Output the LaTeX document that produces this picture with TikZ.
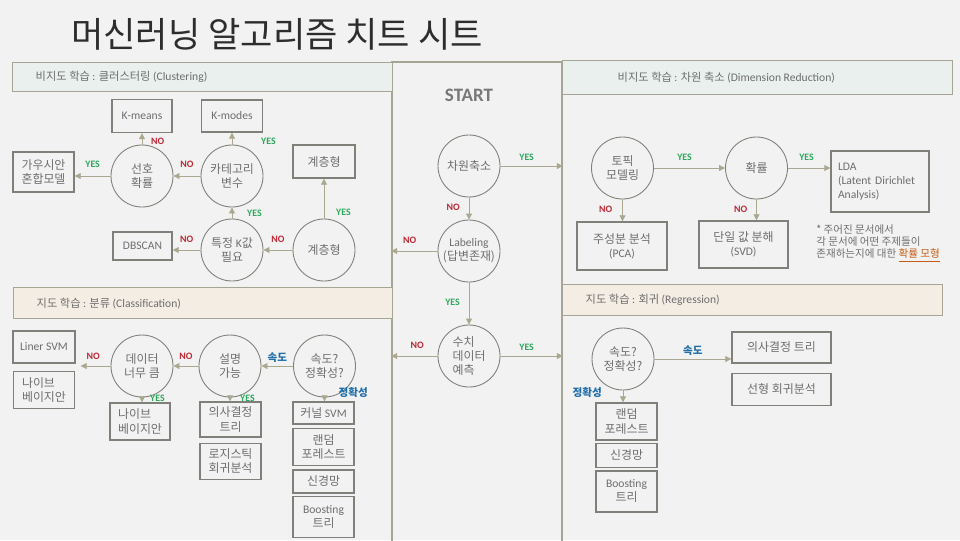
\documentclass[tikz,border=0pt]{standalone}
\usepackage{fontspec}
\setmainfont{Noto Sans CJK KR}
\newfontfamily\lat{Carlito}
\usepackage{xcolor}
\usetikzlibrary{arrows.meta,positioning}

\definecolor{bgc}{RGB}{242,242,242}
\definecolor{titlec}{RGB}{45,45,45}
\definecolor{framec}{RGB}{166,164,146}
\definecolor{edgec}{RGB}{128,128,122}
\definecolor{arrc}{RGB}{170,168,145}
\definecolor{txtc}{RGB}{110,110,110}
\definecolor{startc}{RGB}{120,120,120}
\definecolor{yesc}{RGB}{46,168,92}
\definecolor{noc}{RGB}{192,40,52}
\definecolor{spdc}{RGB}{30,110,170}
\definecolor{hdrtop}{RGB}{233,240,238}
\definecolor{hdrbot}{RGB}{244,237,227}
\definecolor{notec}{RGB}{197,90,17}

\newcommand\ndfont{\fontsize{6.8}{8}\selectfont}
\newcommand\lblfont{\lat\bfseries\fontsize{5.6}{6}\selectfont}
\newcommand\ltxt[1]{{\lat\fontsize{6.6}{8}\selectfont #1}}
\newcommand\hdrtext[2]{\makebox[#1][l]{#2}}

\begin{document}
\begin{tikzpicture}[
  x=0.2mm, y=-0.2mm,
  dec/.style={circle, draw=edgec, line width=0.5pt, minimum size=12.4mm, inner sep=0pt, align=center, text=txtc, font=\ndfont},
  algo/.style={draw=edgec, line width=0.8pt, inner sep=0pt, align=center, text=txtc, font=\ndfont, minimum width=12.2mm},
  hdr/.style={draw=framec, line width=0.8pt, inner ysep=0pt, anchor=north west, text=txtc, font=\fontsize{6.4}{8}\selectfont},
  yeslbl/.style={font=\lblfont, text=yesc, inner sep=1pt},
  nolbl/.style={font=\lblfont, text=noc, inner sep=1pt},
  spdlbl/.style={font=\bfseries\fontsize{6}{7}\selectfont, text=spdc, inner sep=1pt},
  arr/.style={-{Triangle[length=1.2mm,width=1.2mm]}, draw=arrc, line width=0.5pt},
]

\useasboundingbox[fill=bgc] (0,0) rectangle (960,540);

\node[font=\fontsize{20}{22}\selectfont, text=titlec] (title) at (277,34) {머신러닝 알고리즘 치트 시트};

% start column
\node[draw=framec, line width=0.9pt, minimum width=34mm, minimum height=96.4mm, anchor=north, inner sep=0pt] (startcol) at (477,61) {};
\node[font=\lat\bfseries\fontsize{10.8}{13}\selectfont, text=startc] (start) at (469,95) {START};

\node[dec] (dimred) at (469,166) {차원축소};
\node[dec] (labeling) at (469,251) {\ltxt{Labeling}\\(답변존재)};
\node[dec, align=left] (numeric) at (469,356) {수치\\데이터\\예측};

\draw[arr] (dimred) -- (dimred -| startcol.east) node[pos=0.42, above=0.6mm, yeslbl] {YES};
\draw[arr] (dimred) -- (labeling) node[pos=0.45, left=1.4mm, nolbl] {NO};
\draw[arr] (labeling) -- (labeling -| startcol.west) node[pos=0.6, above=1.1mm, nolbl] {NO};
\draw[arr] (labeling) -- (numeric) node[pos=0.48, left=1.4mm, yeslbl] {YES};
\draw[arr] (numeric) -- (numeric -| startcol.west) node[pos=0.44, above=1.1mm, nolbl] {NO};
\draw[arr] (numeric) -- (numeric -| startcol.east) node[pos=0.42, above=0.7mm, yeslbl] {YES};

% headers
\node[hdr, fill=hdrtop, minimum height=5.8mm, inner xsep=4.6mm] (hdrclu) at (12,62) {\hdrtext{66.8mm}{비지도 학습 {\lat:} 클러스터링 \ltxt{(Clustering)}}};
\node[hdr, fill=hdrtop, minimum height=6.8mm, inner xsep=11mm] (hdrdim) at (562,60) {\hdrtext{56mm}{비지도 학습 {\lat:} 차원 축소 \ltxt{(Dimension Reduction)}}};
\node[hdr, fill=hdrbot, minimum height=6.2mm, inner xsep=4.6mm] (hdrcls) at (13,287) {\hdrtext{66.6mm}{지도 학습 {\lat:} 분류 \ltxt{(Classification)}}};
\node[hdr, fill=hdrbot, minimum height=6.2mm, inner xsep=4.6mm] (hdrreg) at (562,284) {\hdrtext{66.8mm}{지도 학습 {\lat:} 회귀 \ltxt{(Regression)}}};

% clustering
\node[dec] (sunho) at (142,176) {선호\\확률};
\node[dec] (kate) at (232,176) {카테고리\\변수};
\node[dec] (kval) at (232,250) {특정 \ltxt{K}값\\필요};
\node[dec] (hier) at (324,250) {계층형};
\node[algo, minimum width=12mm, minimum height=6.6mm] (kmeans) at (142,116) {\ltxt{K-means}};
\node[algo, minimum height=6.4mm] (kmodes) at (232,116) {\ltxt{K-modes}};
\node[algo, minimum height=8mm] (gmm) at (43.5,172) {가우시안\\혼합모델};
\node[algo, minimum width=12.4mm, minimum height=6.6mm] (hiertop) at (324,161.5) {계층형};
\node[algo, minimum width=11.8mm, minimum height=5.6mm] (dbscan) at (142.5,246) {\ltxt{DBSCAN}};

\draw[arr] (sunho) -- (kmeans) node[pos=0.3, right=1.4mm, nolbl] {NO};
\draw[arr] (sunho) -- (sunho -| gmm.east) node[midway, above=1.2mm, yeslbl] {YES};
\draw[arr] (kate) -- (sunho) node[midway, above=1.2mm, nolbl] {NO};
\draw[arr] (kate) -- (kmodes) node[pos=0.3, right=5.4mm, yeslbl] {YES};
\draw[arr] (kval) -- (kate) node[pos=0.45, right=2.6mm, yeslbl] {YES};
\draw[arr] (kval) -- (kval -| dbscan.east) node[midway, above=1.1mm, nolbl] {NO};
\draw[arr] (hier) -- (kval) node[midway, above=1.1mm, nolbl] {NO};
\draw[arr] (hier) -- (hiertop) node[pos=0.15, right=2mm, yeslbl] {YES};

% dimension reduction
\node[dec] (topic) at (622.5,168) {토픽\\모델링};
\node[dec] (prob) at (756.5,168) {확률};
\node[algo, text width=16.8mm, align=left, minimum height=12.2mm, inner xsep=1.4mm] (lda) at (880,181.5) {\ltxt{LDA}\\\ltxt{(Latent Dirichlet}\\\ltxt{Analysis)}};
\node[algo, minimum width=18mm, minimum height=9.6mm] (pca) at (622,246) {주성분 분석\\\ltxt{(PCA)}};
\node[algo, minimum width=17.8mm, minimum height=9.4mm] (svd) at (743.5,244.5) {단일 값 분해\\\ltxt{(SVD)}};
\node[anchor=north west, align=left, text=txtc, font=\fontsize{6}{7}\selectfont, inner sep=0pt] (note) at (816,224) {* 주어진 문서에서\\각 문서에 어떤 주제들이\\존재하는지에 대한 \textcolor{notec}{\underline{확률 모형}}};

\draw[arr] (topic) -- (prob) node[pos=0.43, above=1.1mm, yeslbl] {YES};
\draw[arr] (prob) -- (prob -| lda.west) node[pos=0.44, above=1.1mm, yeslbl] {YES};
\draw[arr] (topic) -- (topic |- pca.north) node[pos=0.45, left=1.6mm, nolbl] {NO};
\draw[arr] (prob) -- (prob |- svd.north) node[pos=0.45, left=1.4mm, nolbl] {NO};

% classification
\node[dec] (data) at (142,366) {데이터\\너무 큼};
\node[dec] (expl) at (230,366) {설명\\가능};
\node[dec] (speedc) at (324.5,366) {속도?\\정확성?};
\node[algo, minimum width=12.4mm, minimum height=6.4mm] (linsvm) at (44,347) {\ltxt{Liner SVM}};
\node[algo, align=left, minimum height=7.4mm, below=1.4mm of linsvm] (nbleft) {나이브\\베이지안};
\node[algo, align=left, minimum width=12mm, minimum height=7.4mm] (nbmid) at (140,421.5) {나이브\\베이지안};
\node[algo, minimum height=7mm] (dtree) at (230.5,419.5) {의사결정\\트리};
\node[algo, minimum height=7.2mm, below=1mm of dtree] (logit) {로지스틱\\회귀분석};
\node[algo, minimum height=4.4mm] (ksvm) at (323.5,413) {커널 \ltxt{SVM}};
\node[algo, minimum height=7.4mm, below=0.6mm of ksvm] (rf) {랜덤\\포레스트};
\node[algo, minimum height=4.6mm, below=0.6mm of rf] (nn) {신경망};
\node[algo, minimum height=8.2mm, below=0.4mm of nn] (boost) {\ltxt{Boosting}\\트리};

\draw[arr, shorten >=1mm] (data) -- (data -| linsvm.east) node[midway, above=0.9mm, nolbl] {NO};
\draw[arr] (expl) -- (data) node[midway, above=0.9mm, nolbl] {NO};
\draw[arr] (speedc) -- (expl) node[midway, above=0.3mm, spdlbl] {속도};
\draw[arr] (data) -- (data |- nbmid.north) node[pos=0.2, right=1.2mm, yeslbl] {YES};
\draw[arr] (expl) -- (expl |- dtree.north) node[pos=0.2, right=1.6mm, yeslbl] {YES};
\draw[arr] (speedc) -- (speedc |- ksvm.north) node[pos=0, right=2.4mm, yshift=1mm, spdlbl] {정확성};

% regression
\node[dec] (speedr) at (623,359) {속도?\\정확성?};
\node[algo, minimum width=19.8mm, minimum height=6.2mm] (rdtree) at (781.5,347.5) {의사결정 트리};
\node[algo, minimum width=19.8mm, minimum height=6.4mm, below=1.8mm of rdtree] (linreg) {선형 회귀분석};
\node[algo, minimum height=7.4mm] (rrf) at (626.5,421.5) {랜덤\\포레스트};
\node[algo, minimum height=4.8mm, below=0.4mm of rrf] (rnn) {신경망};
\node[algo, minimum height=8.2mm, below=0.4mm of rnn] (rboost) {\ltxt{Boosting}\\트리};

\draw[arr] (speedr) -- (speedr -| rdtree.west) node[midway, above=0.2mm, spdlbl] {속도};
\draw[arr] (speedr) -- (speedr |- rrf.north) node[pos=0.2, left=3.8mm, spdlbl] {정확성};

\end{tikzpicture}
\end{document}
